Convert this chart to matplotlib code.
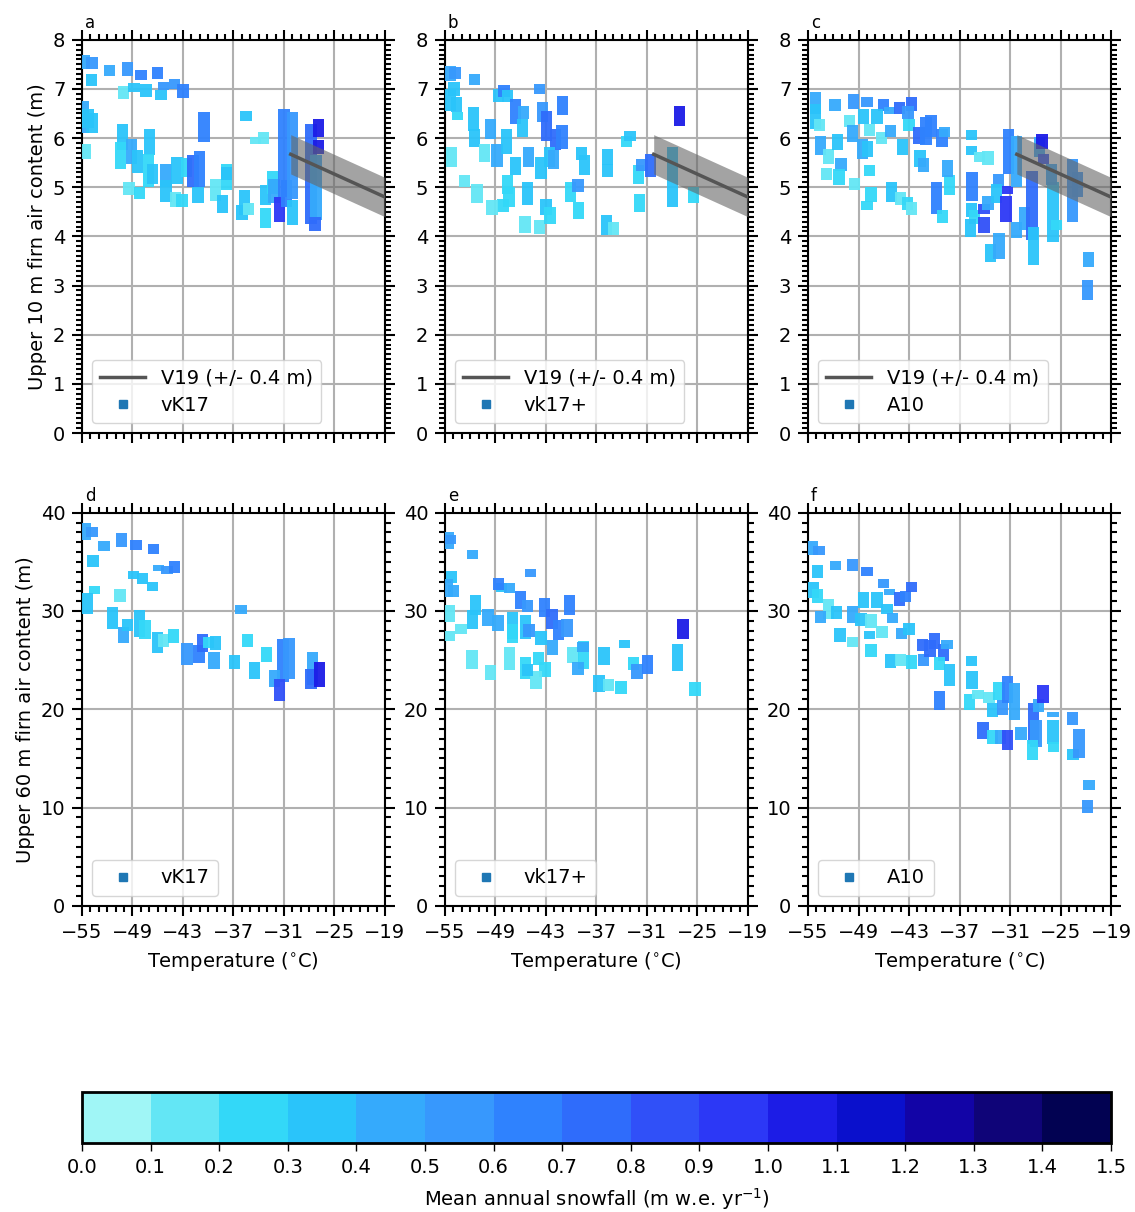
import numpy as np
import matplotlib
matplotlib.use('Agg')
import matplotlib.pyplot as plt
from matplotlib.colors import ListedColormap, BoundaryNorm
from matplotlib.cm import ScalarMappable
from matplotlib.lines import Line2D
from matplotlib.ticker import MultipleLocator, FixedLocator

## DATA
# each site: temperature (C), low / high firn air content (m), mean snowfall (m w.e./yr)

# vK17, upper 10 m
a_temp = [-54.7, -53.8, -53.9, -51.7, -49.6, -48.0, -46.0, -44.0, -43.0, -50.1, -48.8, -47.4, -45.6, -45.3,
          -54.8, -54.3, -53.8, -54.6, -50.2, -50.4, -49.1, -48.4, -47.0, -47.1, -46.6, -49.4, -48.2, -45.0,
          -45.0, -43.9, -43.7, -43.1, -42.6, -41.8, -41.0, -41.2, -40.5, -39.1, -38.3, -37.8, -37.8, -35.7,
          -36.0, -35.2, -35.5, -34.4, -33.4, -33.2, -33.2, -32.3, -32.2, -31.0, -31.5, -30.7, -30.0, -30.0,
          -27.8, -27.2, -27.3, -26.9, -26.9]
a_lo = [7.40, 7.40, 7.05, 7.27, 7.27, 7.19, 7.20, 7.00, 6.82, 6.80, 6.93, 6.84, 6.78, 6.98,
        6.10, 6.20, 6.10, 5.58, 5.75, 5.38, 5.48, 5.28, 5.65, 5.00, 5.07, 4.84, 4.77, 5.00,
        4.70, 4.60, 5.07, 4.60, 5.20, 5.00, 5.00, 4.68, 5.92, 4.73, 4.47, 4.94, 5.14, 4.43,
        4.33, 4.43, 6.34, 5.87, 5.87, 4.18, 4.63, 4.87, 4.67, 4.80, 4.30, 4.60, 4.77, 4.23,
        4.26, 4.33, 4.11, 6.02, 5.68]
a_hi = [7.70, 7.64, 7.30, 7.49, 7.54, 7.38, 7.44, 7.20, 7.09, 7.05, 7.12, 7.09, 6.97, 7.14,
        6.75, 6.60, 6.50, 5.88, 6.29, 5.92, 5.99, 5.75, 6.19, 5.68, 5.48, 5.10, 5.00, 5.48,
        5.14, 4.90, 5.61, 4.87, 5.60, 5.65, 5.74, 5.00, 6.54, 5.17, 4.84, 5.48, 5.41, 4.94,
        4.63, 4.67, 6.55, 6.02, 6.12, 4.57, 5.04, 5.34, 5.17, 6.59, 4.80, 5.14, 6.53, 4.74,
        6.29, 5.65, 4.40, 6.38, 5.96]
a_snow = [0.45, 0.50, 0.30, 0.45, 0.55, 0.65, 0.65, 0.55, 0.65, 0.15, 0.35, 0.30, 0.30, 0.50,
          0.45, 0.35, 0.35, 0.15, 0.30, 0.25, 0.45, 0.35, 0.30, 0.25, 0.35, 0.15, 0.20, 0.45,
          0.30, 0.15, 0.30, 0.20, 0.25, 0.75, 0.60, 0.30, 0.65, 0.15, 0.35, 0.20, 0.35, 0.30,
          0.30, 0.15, 0.30, 0.15, 0.15, 0.25, 0.30, 0.25, 0.45, 0.65, 0.90, 0.65, 0.50, 0.35,
          0.70, 0.40, 0.75, 1.05, 1.05]

# vk17+, upper 10 m
b_temp = [-54.4, -53.8, -51.5, -53.9, -54.3, -53.6, -53.5, -54.2, -51.6, -51.5, -49.6, -48.6, -48.0, -47.6,
          -50.3, -48.8, -47.7, -46.6, -46.6, -45.7, -45.8, -45.1, -43.4, -42.9, -43.8, -41.0, -41.9, -41.1,
          -42.6, -42.1, -43.6, -45.2, -47.6, -47.4, -48.1, -51.2, -49.4, -52.7, -45.5, -43.8, -43.0, -42.5,
          -40.1, -39.2, -39.1, -38.8, -38.4, -35.7, -35.7, -35.8, -35.0, -33.4, -33.0, -32.0, -31.6, -31.9,
          -30.6, -28.0, -27.1, -25.5]
b_lo = [7.17, 7.20, 7.07, 6.86, 6.56, 6.53, 6.36, 5.41, 6.15, 5.82, 5.99, 6.73, 6.83, 6.73,
        5.51, 5.41, 5.68, 5.24, 6.29, 6.39, 6.02, 5.41, 6.32, 5.95, 6.90, 6.46, 5.75, 5.78,
        5.41, 5.38, 5.17, 4.63, 4.87, 4.60, 4.50, 4.67, 4.43, 5.00, 4.06, 4.05, 4.43, 4.26,
        4.70, 4.90, 4.36, 5.55, 5.24, 5.45, 5.21, 4.03, 4.03, 5.82, 5.95, 5.07, 5.34, 4.50,
        5.21, 4.60, 6.24, 4.68]
b_hi = [7.47, 7.44, 7.30, 7.14, 7.00, 6.83, 6.53, 5.82, 6.63, 6.19, 6.39, 7.00, 7.07, 6.97,
        5.88, 5.88, 6.19, 5.61, 6.80, 6.66, 6.39, 5.82, 6.73, 6.56, 7.10, 6.86, 6.19, 6.26,
        5.82, 5.75, 5.61, 5.11, 5.24, 5.00, 4.77, 5.07, 4.75, 5.24, 4.41, 4.33, 4.77, 4.60,
        5.11, 5.17, 4.70, 5.82, 5.65, 5.78, 5.48, 4.43, 4.30, 6.05, 6.15, 5.45, 5.58, 4.87,
        5.68, 5.82, 6.66, 5.00]
b_snow = [0.45, 0.50, 0.45, 0.30, 0.35, 0.35, 0.20, 0.15, 0.35, 0.35, 0.45, 0.30, 0.65, 0.35,
          0.15, 0.40, 0.30, 0.30, 0.65, 0.45, 0.30, 0.45, 0.55, 0.75, 0.50, 0.65, 0.70, 0.60,
          0.30, 0.45, 0.35, 0.30, 0.25, 0.20, 0.25, 0.15, 0.15, 0.10, 0.15, 0.15, 0.30, 0.25,
          0.25, 0.55, 0.20, 0.35, 0.30, 0.35, 0.30, 0.30, 0.15, 0.20, 0.30, 0.20, 0.50, 0.25,
          0.75, 0.35, 1.05, 0.20]

# A10, upper 10 m
c_temp = [-54.1, -54.1, -53.6, -51.8, -49.6, -48.0, -46.0, -45.3, -44.1, -42.7, -43.1, -48.4, -46.8, -50.1,
          -49.7, -47.7, -46.3, -45.2, -43.0, -41.8, -41.0, -40.4, -39.1, -38.8, -53.5, -52.6, -51.5, -51.1,
          -51.3, -52.8, -48.5, -47.9, -47.7, -49.5, -43.8, -41.7, -41.3, -47.5, -48.0, -45.1, -44.0, -43.2,
          -42.7, -39.7, -38.2, -38.4, -39.0, -35.5, -35.6, -35.6, -34.6, -33.6, -35.6, -35.2, -34.1, -34.1,
          -35.7, -33.6, -32.4, -32.6, -31.5, -31.3, -31.2, -30.2, -30.2, -33.3, -32.3, -29.3, -28.4, -28.2,
          -27.5, -27.2, -27.0, -25.9, -26.1, -25.5, -23.6, -23.0, -21.7, -21.8]
c_lo = [6.49, 6.19, 6.15, 6.56, 6.59, 6.63, 6.56, 6.49, 6.49, 6.56, 6.39, 6.29, 6.29, 6.22,
        5.92, 6.05, 5.88, 6.02, 6.14, 5.88, 5.85, 6.02, 5.82, 6.02, 5.65, 5.48, 5.75, 5.34,
        5.04, 5.15, 5.58, 5.61, 5.22, 4.95, 5.65, 5.41, 5.31, 4.70, 4.53, 4.70, 4.63, 4.53,
        4.43, 4.46, 4.85, 5.21, 4.27, 4.73, 5.97, 5.65, 5.51, 5.46, 4.40, 4.26, 4.45, 4.06,
        3.99, 4.53, 5.00, 4.67, 4.29, 4.86, 5.27, 5.00, 3.96, 3.48, 3.55, 4.13, 3.92, 3.42,
        5.61, 5.78, 5.48, 3.89, 5.04, 4.13, 4.29, 4.80, 3.38, 2.71]
c_hi = [6.93, 6.70, 6.39, 6.80, 6.90, 6.83, 6.80, 6.63, 6.73, 6.84, 6.66, 6.59, 6.59, 6.46,
        6.26, 6.29, 6.12, 6.26, 6.39, 6.22, 6.42, 6.46, 6.19, 6.22, 6.05, 5.78, 6.09, 5.60,
        5.38, 5.40, 5.98, 5.95, 5.46, 5.19, 5.98, 5.75, 5.60, 5.00, 4.73, 5.10, 4.90, 4.80,
        4.70, 5.10, 5.24, 5.55, 4.53, 5.31, 6.17, 5.83, 5.72, 5.73, 4.68, 4.53, 4.65, 4.40,
        4.36, 4.83, 5.27, 5.07, 4.83, 5.02, 6.19, 6.05, 4.29, 3.85, 4.06, 4.60, 5.34, 4.19,
        6.02, 6.09, 5.68, 5.10, 5.48, 4.33, 5.58, 5.31, 3.69, 3.11]
c_snow = [0.45, 0.30, 0.15, 0.40, 0.50, 0.55, 0.60, 0.45, 0.75, 0.75, 0.50, 0.30, 0.30, 0.15,
          0.45, 0.15, 0.15, 0.40, 0.20, 0.70, 0.65, 0.65, 0.60, 0.40, 0.40, 0.15, 0.35, 0.45,
          0.25, 0.15, 0.40, 0.35, 0.25, 0.15, 0.30, 0.35, 0.40, 0.20, 0.20, 0.30, 0.15, 0.20,
          0.15, 0.60, 0.25, 0.40, 0.20, 0.65, 0.35, 0.35, 0.15, 0.15, 0.35, 0.25, 0.80, 0.80,
          0.30, 0.40, 0.50, 0.30, 0.90, 0.90, 0.60, 0.40, 0.40, 0.30, 0.45, 0.45, 0.75, 0.30,
          0.40, 1.05, 0.80, 0.35, 0.45, 0.20, 0.55, 0.55, 0.45, 0.50]

# vK17, upper 60 m
d_temp = [-54.6, -53.8, -53.7, -52.4, -50.3, -48.6, -46.5, -45.9, -44.9, -44.0, -48.9, -47.8, -46.6, -50.5,
          -53.5, -54.4, -51.4, -50.1, -49.6, -48.2, -47.5, -46.0, -45.3, -44.1, -42.5, -41.1, -40.7, -40.0,
          -39.1, -39.3, -36.9, -35.3, -36.1, -34.5, -33.1, -31.1, -30.4, -32.1, -31.5, -27.6, -27.8, -26.8]
d_lo = [37.2, 37.5, 34.5, 36.1, 36.5, 36.2, 35.8, 34.1, 33.8, 33.9, 33.3, 32.7, 32.0, 30.9,
        31.7, 29.7, 28.2, 26.7, 28.0, 27.4, 27.2, 25.7, 26.3, 26.7, 24.5, 24.7, 25.8, 26.2,
        26.0, 24.1, 24.1, 26.3, 29.7, 23.1, 24.8, 22.8, 23.1, 22.3, 20.8, 22.5, 22.1, 22.3]
d_hi = [38.9, 38.5, 35.7, 37.1, 37.9, 37.2, 36.8, 34.7, 34.6, 35.1, 34.1, 33.9, 32.9, 32.2,
        32.5, 31.8, 30.4, 28.4, 29.2, 30.1, 29.1, 27.9, 27.7, 28.2, 26.7, 26.5, 27.7, 27.4,
        27.5, 25.8, 25.5, 27.7, 30.6, 24.8, 26.3, 27.2, 27.3, 24.0, 23.1, 25.8, 24.1, 24.8]
d_snow = [0.45, 0.50, 0.30, 0.45, 0.55, 0.60, 0.60, 0.45, 0.55, 0.60, 0.30, 0.35, 0.30, 0.15,
          0.20, 0.35, 0.35, 0.45, 0.35, 0.30, 0.25, 0.35, 0.15, 0.25, 0.55, 0.60, 0.70, 0.20,
          0.30, 0.45, 0.30, 0.20, 0.40, 0.30, 0.20, 0.60, 0.50, 0.45, 0.80, 0.45, 0.70, 1.00]

# vk17+, upper 60 m
e_temp = [-54.6, -54.3, -51.7, -44.8, -54.2, -54.7, -54.0, -54.5, -54.5, -53.1, -51.4, -51.7, -49.9, -48.7,
          -48.3, -48.6, -47.3, -47.0, -47.0, -46.0, -45.2, -45.4, -45.0, -43.2, -42.3, -41.5, -40.5, -40.2,
          -43.6, -42.2, -43.9, -43.1, -45.4, -44.2, -47.3, -45.2, -51.8, -49.6, -39.8, -38.5, -39.2, -38.6,
          -36.1, -36.7, -35.6, -34.1, -33.7, -32.6, -32.2, -30.9, -27.4, -26.7, -25.3]
e_lo = [36.3, 36.8, 35.3, 33.5, 32.8, 31.4, 31.4, 28.9, 26.9, 27.7, 29.6, 28.2, 28.5, 28.0,
        31.9, 32.1, 31.8, 27.2, 26.7, 30.2, 29.9, 27.2, 27.4, 29.4, 28.2, 27.0, 27.4, 29.6,
        26.5, 25.5, 24.5, 23.3, 23.1, 22.1, 24.0, 23.4, 24.1, 23.0, 24.7, 24.1, 23.5, 25.8,
        24.5, 21.8, 21.9, 21.6, 26.2, 24.0, 23.1, 23.6, 23.9, 27.2, 21.4]
e_hi = [38.0, 37.7, 36.2, 34.3, 34.1, 33.3, 32.6, 30.6, 28.0, 28.7, 31.6, 30.1, 30.2, 29.6,
        32.8, 33.4, 32.8, 29.9, 28.7, 32.0, 31.1, 29.6, 28.7, 31.3, 30.2, 29.1, 29.2, 31.6,
        28.0, 27.1, 25.8, 24.8, 25.3, 23.9, 26.3, 24.6, 26.0, 24.5, 26.3, 26.9, 24.8, 26.8,
        26.3, 23.5, 23.1, 22.9, 27.1, 25.3, 24.6, 25.5, 26.6, 29.2, 22.8]
e_snow = [0.45, 0.50, 0.45, 0.50, 0.30, 0.40, 0.40, 0.15, 0.15, 0.10, 0.30, 0.35, 0.45, 0.45,
          0.35, 0.65, 0.45, 0.30, 0.25, 0.65, 0.50, 0.30, 0.50, 0.60, 0.75, 0.60, 0.55, 0.65,
          0.30, 0.45, 0.25, 0.25, 0.25, 0.15, 0.15, 0.30, 0.15, 0.10, 0.15, 0.20, 0.40, 0.40,
          0.35, 0.30, 0.15, 0.20, 0.35, 0.25, 0.55, 0.65, 0.35, 1.05, 0.20]

# A10, upper 60 m
f_temp = [-54.5, -53.7, -53.9, -51.7, -49.7, -48.0, -46.0, -45.3, -44.1, -43.4, -42.7, -54.4, -53.9, -52.6,
          -53.5, -51.6, -49.7, -48.7, -47.5, -48.4, -46.8, -45.6, -45.0, -51.2, -49.7, -47.7, -46.2, -47.5,
          -43.9, -43.0, -45.2, -44.0, -42.7, -41.4, -41.3, -40.5, -40.0, -38.9, -38.5, -39.4, -38.2, -38.2,
          -39.4, -35.6, -35.5, -35.8, -34.8, -33.5, -33.1, -32.3, -31.9, -31.3, -30.5, -34.2, -33.1, -32.1,
          -31.3, -29.7, -28.2, -27.9, -28.3, -27.6, -27.1, -25.9, -25.8, -25.9, -23.6, -23.5, -22.8, -21.6,
          -21.8]
f_lo = [35.7, 35.7, 33.4, 34.2, 34.1, 33.6, 32.3, 31.6, 30.5, 30.9, 31.9, 31.3, 30.8, 29.2,
        28.8, 29.2, 28.8, 28.5, 28.3, 30.3, 30.3, 29.7, 28.8, 26.8, 26.3, 27.2, 27.3, 25.3,
        27.2, 27.6, 24.2, 24.4, 24.1, 25.9, 24.4, 25.3, 26.1, 24.9, 26.1, 24.0, 23.3, 22.4,
        19.9, 24.4, 22.1, 19.9, 21.1, 20.6, 19.2, 20.9, 19.4, 20.6, 18.9, 17.0, 16.5, 16.5,
        15.9, 16.9, 16.5, 16.2, 14.8, 19.7, 20.6, 16.5, 15.7, 19.2, 18.4, 14.8, 15.0, 11.8,
        9.5]
f_hi = [37.1, 36.6, 34.7, 35.1, 35.3, 34.5, 33.3, 32.2, 31.9, 32.0, 32.9, 32.9, 32.2, 31.2,
        30.0, 30.5, 30.5, 29.8, 29.7, 31.9, 31.9, 30.7, 29.8, 28.3, 27.4, 28.0, 28.5, 26.6,
        28.3, 28.8, 25.6, 25.6, 25.5, 27.2, 25.6, 27.0, 27.8, 26.6, 27.0, 25.3, 24.6, 23.3,
        21.9, 25.4, 23.9, 21.6, 22.0, 21.8, 20.6, 22.8, 20.9, 23.4, 22.7, 18.7, 17.9, 17.9,
        17.9, 18.2, 20.6, 18.9, 16.9, 21.1, 22.5, 18.9, 16.7, 19.7, 19.7, 16.0, 18.0, 12.8,
        10.8]
f_snow = [0.45, 0.50, 0.30, 0.45, 0.50, 0.60, 0.55, 0.40, 0.70, 0.60, 0.70, 0.35, 0.20, 0.15,
          0.40, 0.30, 0.45, 0.35, 0.15, 0.30, 0.30, 0.35, 0.40, 0.30, 0.15, 0.30, 0.15, 0.20,
          0.40, 0.30, 0.30, 0.15, 0.20, 0.70, 0.50, 0.70, 0.75, 0.70, 0.45, 0.20, 0.30, 0.30,
          0.65, 0.35, 0.30, 0.25, 0.15, 0.15, 0.30, 0.25, 0.50, 0.60, 0.45, 0.70, 0.20, 0.40,
          0.85, 0.40, 0.70, 0.50, 0.20, 0.45, 0.95, 0.35, 0.20, 0.45, 0.50, 0.30, 0.50, 0.45,
          0.50]

# V19 empirical fit, only drawn on the 10 m panels
v19_temp = [-30.2, -19.0]
v19_fac = [5.67, 4.80]
v19_err = 0.4

labels = ['vK17', 'vk17+', 'A10']
letters = ['a', 'b', 'c', 'd', 'e', 'f']
temp_ticks = [-55, -49, -43, -37, -31, -25, -19]
snow_ticks = [0.0, 0.1, 0.2, 0.3, 0.4, 0.5, 0.6, 0.7, 0.8, 0.9, 1.0, 1.1, 1.2, 1.3, 1.4, 1.5]

## COLOURS
colors = ['#a0f6f6', '#63e6f5', '#33d8f8', '#2ac4fa', '#35aafc', '#3798fd', '#2f82fe', '#2f6cfb',
          '#3050f8', '#2c38f6', '#1c1ce6', '#0a10cc', '#1204a6', '#0f0478', '#020252']
cmap = ListedColormap(colors)
norm = BoundaryNorm(snow_ticks, cmap.N)

plt.rcParams['font.size'] = 14

fig = plt.figure(figsize=(11.35, 12.12), dpi=100)

lefts = [0.0722, 0.392, 0.7119]
bottoms = [0.6427, 0.2525]
w, h = 0.267, 0.3245

panels = [(a_temp, a_lo, a_hi, a_snow), (b_temp, b_lo, b_hi, b_snow), (c_temp, c_lo, c_hi, c_snow),
          (d_temp, d_lo, d_hi, d_snow), (e_temp, e_lo, e_hi, e_snow), (f_temp, f_lo, f_hi, f_snow)]

for i in range(6):
    row = i // 3
    col = i % 3
    ax = fig.add_axes([lefts[col], bottoms[row], w, h])
    temp, lo, hi, snow = [np.array(v) for v in panels[i]]

    # each site is a bar spanning its range of air content
    ax.bar(temp, hi - lo, bottom=lo, width=1.35, color=cmap(norm(snow)), alpha=0.95,
           linewidth=0, zorder=3)

    handles = []
    if row == 0:
        t = np.array(v19_temp)
        y = np.array(v19_fac)
        ax.fill_between(t, y - v19_err, y + v19_err, color='0.4', alpha=0.6, linewidth=0, zorder=4)
        ax.plot(t, y, color='#555555', lw=2.5, zorder=5)
        handles.append(Line2D([], [], color='#555555', lw=2.5, label='V19 (+/- 0.4 m)'))
    handles.append(Line2D([], [], color='#1f77b4', marker='s', ls='none', markersize=6,
                          label=labels[col]))
    ax.legend(handles=handles, loc='lower left', handlelength=2.3, borderpad=0.45,
              labelspacing=0.4)

    ax.set_xlim(-55, -19)
    ax.xaxis.set_major_locator(FixedLocator(temp_ticks))
    ax.xaxis.set_minor_locator(MultipleLocator(1))
    if row == 0:
        ax.set_ylim(0, 8)
        ax.yaxis.set_major_locator(MultipleLocator(1))
        ax.yaxis.set_minor_locator(MultipleLocator(0.1))
        ax.tick_params(labelbottom=False)
        if col == 0:
            ax.set_ylabel('Upper 10 m firn air content (m)')
    else:
        ax.set_ylim(0, 40)
        ax.yaxis.set_major_locator(MultipleLocator(10))
        ax.yaxis.set_minor_locator(MultipleLocator(1))
        ax.set_xlabel('Temperature ($^{\\circ}$C)', labelpad=6)
        if col == 0:
            ax.set_ylabel('Upper 60 m firn air content (m)')

    ax.grid(True, which='major', color='#b0b0b0', lw=1.5, zorder=0)
    ax.set_axisbelow(True)
    ax.tick_params(which='both', direction='out', top=True, right=True, width=1.5)
    ax.tick_params(which='major', length=7, pad=5)
    ax.tick_params(which='minor', length=4)
    for s in ax.spines.values():
        s.set_linewidth(1.5)
    ax.text(0.01, 1.02, letters[i], transform=ax.transAxes, fontsize=12, va='bottom')

# shared colour bar for snowfall
cax = fig.add_axes([0.0722, 0.0569, 0.9067, 0.042])
cb = fig.colorbar(ScalarMappable(norm=norm, cmap=cmap), cax=cax, orientation='horizontal',
                  ticks=snow_ticks)
cb.ax.set_xticklabels(['%.1f' % v for v in snow_ticks])
cb.outline.set_linewidth(2)
cb.ax.tick_params(length=6, width=1, pad=5)
cb.set_label('Mean annual snowfall (m w.e. yr$^{-1}$)', labelpad=6)

fig.savefig('out.png', dpi=100)
